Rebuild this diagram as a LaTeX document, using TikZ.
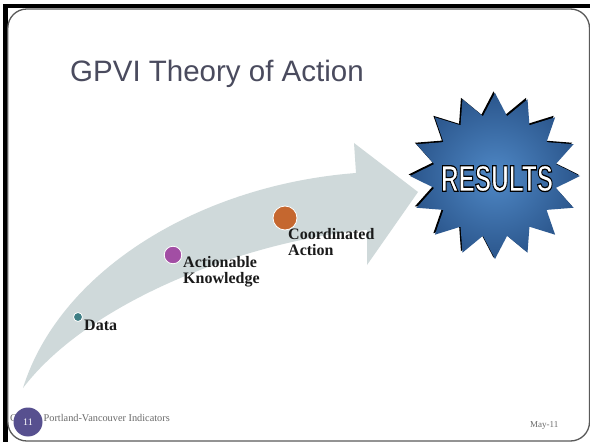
\documentclass[tikz,border=0pt]{standalone}
\usepackage{fontspec}
\usepackage{graphicx}
\setmainfont{Liberation Serif}
\newfontfamily\titlefont{Liberation Sans}
\newfontface\resoutline{Liberation Sans Bold}[FakeBold=3.5]
\definecolor{titlec}{HTML}{4A4B5E}
\definecolor{arrowc}{HTML}{CFD9DA}
\definecolor{dataC}{HTML}{3E7E84}
\definecolor{actC}{HTML}{A24EA4}
\definecolor{coordC}{HTML}{C5672F}
\definecolor{labc}{HTML}{1A1A1A}
\definecolor{footc}{HTML}{6A6A6A}
\definecolor{pgc}{HTML}{57508F}
\definecolor{starin}{HTML}{4F88C6}
\definecolor{starout}{HTML}{2B568C}
\definecolor{slidec}{HTML}{5A5A5A}
\tikzset{
  dot/.style={circle, draw=white, line width=0.8pt, inner sep=0pt},
  lab/.style={font=\fontsize{16}{15.8}\selectfont\bfseries, text=labc, inner sep=0pt, align=left, anchor=north west},
  small/.style={inner sep=0pt, anchor=base west, text=footc},
}
\begin{document}
\begin{tikzpicture}[x=1pt,y=-1pt]
\useasboundingbox (0,0) rectangle (590,444);
\fill[white] (0,0) rectangle (590,444);
% black bands
\fill[black] (3,4) rectangle (590,8.5);
\fill[black] (3,4) rectangle (7.5,442);
% slide
\draw[slidec, line width=1.3pt, fill=white, rounded corners=19pt] (7.8,9) rectangle (589.5,441);
% title
\node (title) [anchor=base west, inner sep=0pt, font=\titlefont\fontsize{29.5}{29.5}\selectfont, text=titlec] at (70,82) {GPVI Theory of Action};
% arrow
\fill[arrowc] (23,388) .. controls (60,270) and (200,185) .. (356,173)
  -- (354,143) -- (418,192) -- (367,265) -- (367,230)
  .. controls (250,240) and (90,300) .. (23,388) -- cycle;
% star
\fill[black] plot[variable=\k, samples at={0,...,31}]
  ({493.5+(mod(\k,2)==0 ? 85 : 62)*cos(90+\k*11.25)}, {174.5-(mod(\k,2)==0 ? 83 : 61)*sin(90+\k*11.25)}) -- cycle;
\shade[inner color=starin, outer color=starout] plot[variable=\k, samples at={0,...,31}]
  ({495+(mod(\k,2)==0 ? 85 : 62)*cos(90+\k*11.25)}, {176-(mod(\k,2)==0 ? 83 : 61)*sin(90+\k*11.25)}) -- cycle;
\node (res) at (497,178.5) [inner sep=0pt] {\resoutline\fontsize{37}{37}\selectfont\scalebox{0.66}[1]{\color{white}\special{pdf:code 0 G}RESULTS}};
% dots and labels
\node (data) [dot, fill=dataC, minimum size=9pt] at (78,317) {};
\node (act) [dot, fill=actC, minimum size=17.5pt] at (173,255) {};
\node (coord) [dot, fill=coordC, minimum size=24pt] at (285,218) {};
\node (datal) [lab] at (84,319.5) {Data};
\node (actl) [lab] at (183,256.2) {Actionable\\Knowledge};
\node (coordl) [lab] at (288,228.2) {Coordinated\\Action};
% footer
\node (foot) [small, font=\fontsize{10.3}{10}\selectfont] at (10,421) {Greater Portland-Vancouver Indicators};
\node (pg) [circle, fill=pgc, minimum size=29pt, inner sep=0pt, text=white, font=\fontsize{10}{10}\selectfont] at (28,422) {11};
\node (date) [small, font=\fontsize{9}{9}\selectfont] at (530,427) {May-11};
\end{tikzpicture}
\end{document}
